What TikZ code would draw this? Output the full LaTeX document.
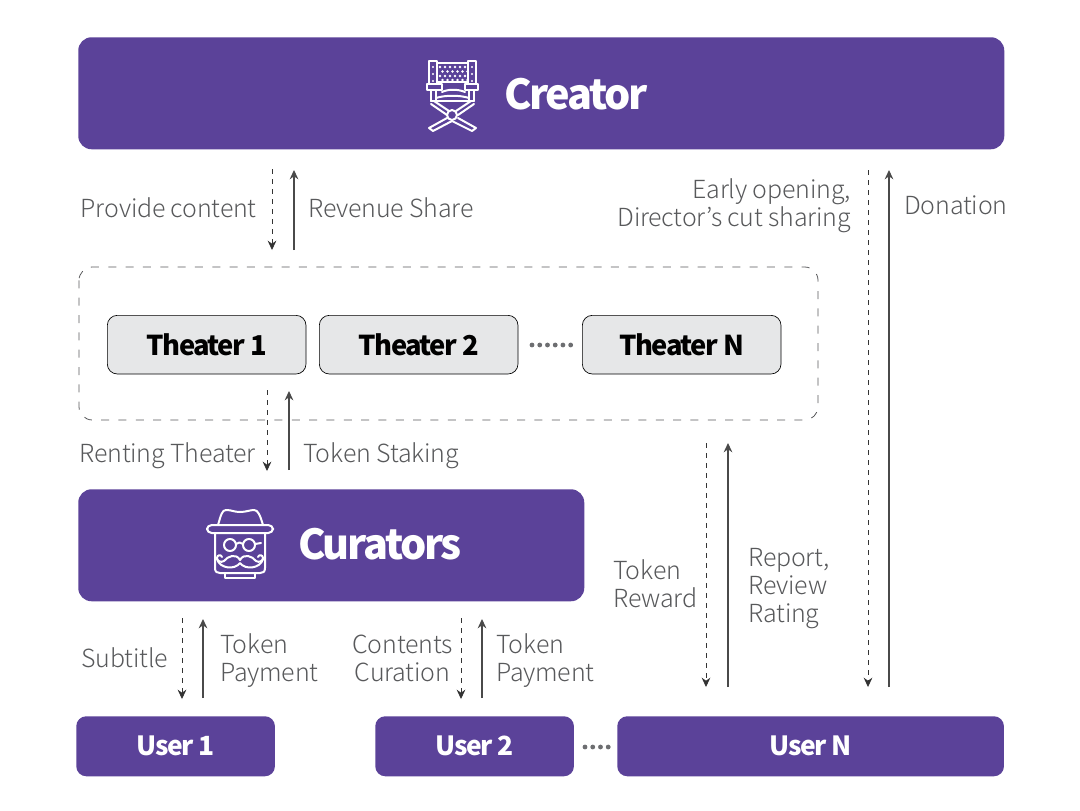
\documentclass[tikz,border=0pt]{standalone}
\usepackage{fontspec}
\setmainfont{Noto Sans CJK KR}
\newfontfamily\lightfont[LetterSpace=-0.7]{Noto Sans CJK KR Light}
\usetikzlibrary{arrows.meta}
\definecolor{brandpurple}{HTML}{5B4299}
\definecolor{lbl}{HTML}{58595B}
\definecolor{arrowgray}{HTML}{4A4A4A}
\definecolor{dashgray}{HTML}{333333}
\definecolor{dotgray}{HTML}{6D6E71}
\definecolor{theaterfill}{HTML}{E6E7E8}
\newcommand{\titletext}[3]{\fontsize{#1}{#1}\selectfont\addfontfeatures{LetterSpace=#2}\bfseries #3}
\tikzset{
  x=0.75pt,y=-0.75pt,
  purplebox/.style={fill=brandpurple,draw=none,rounded corners=10pt,inner sep=0pt,anchor=north west,text=white},
  theaterbox/.style={fill=theaterfill,draw=black,line width=0.5pt,rounded corners=7.5pt,minimum width=149pt,minimum height=44pt,inner sep=0pt,anchor=north west,text=black},
  lab/.style={text=lbl,inner sep=0pt,font=\lightfont\fontsize{18.7pt}{21pt}\selectfont,align=left},
  solidarrow/.style={draw=arrowgray,line width=0.8pt,-{Stealth[length=7pt,width=6.5pt]}},
  dasharrow/.style={draw=dashgray,line width=0.65pt,dash pattern=on 4pt off 3.5pt,-{Stealth[length=7pt,width=6.5pt]}},
  icon/.style={draw=white,line width=1.5pt,line join=round,line cap=round},
  dotline/.style={draw=dotgray,line width=3.6pt,line cap=round,dash pattern=on 0pt off 5.8pt}
}
\begin{document}
\begin{tikzpicture}
\useasboundingbox (0,0) rectangle (1080,810);
\fill[white] (0,0) rectangle (1080,810);
% boxes
\node[purplebox,minimum width=694.5pt,minimum height=84pt] (creator) at (78,37) {};
\node[purplebox,minimum width=379.5pt,minimum height=84pt] (curators) at (78,489) {};
\node[purplebox,minimum width=149pt,minimum height=45pt,rounded corners=7.5pt] (user1) at (76,716) {\raisebox{-1.2pt}{\titletext{19.8pt}{-5}{User 1}}};
\node[purplebox,minimum width=149pt,minimum height=45pt,rounded corners=7.5pt] (user2) at (375,716) {\raisebox{-1.2pt}{\titletext{19.8pt}{-5}{User 2}}};
\node[purplebox,minimum width=290pt,minimum height=45pt,rounded corners=7.5pt] (usern) at (617,716) {\raisebox{-1.2pt}{\titletext{19.8pt}{-5}{User N}}};
\node[text=white,inner sep=0pt] (creatortitle) at (576,94) {\titletext{31pt}{-5.5}{Creator}};
\node[text=white,inner sep=0pt] (curatorstitle) at (380,544) {\titletext{31pt}{-5.5}{Curators}};
% dashed group
\draw[draw=lbl,line width=0.6pt,dash pattern=on 6pt off 7pt,rounded corners=10pt] (79,267) rectangle (818,420);
\node[theaterbox] (t1) at (107,315) {\titletext{20.5pt}{-5.5}{Theater 1}};
\node[theaterbox] (t2) at (319,315) {\titletext{20.5pt}{-5.5}{Theater 2}};
\node[theaterbox] (tn) at (582,315) {\titletext{20.5pt}{-5.5}{Theater N}};
\coordinate (tdA) at (532,345);\coordinate (tdB) at (573,345);
\draw[dotline] (tdA) -- (tdB);
\coordinate (udA) at (585,747);\coordinate (udB) at (611,747);
\draw[dotline] (udA) -- (udB);
% arrow end points
\coordinate (a1s) at (272,169);\coordinate (a1e) at (272,250);
\coordinate (a2s) at (294,250);\coordinate (a2e) at (294,170);
\coordinate (a3s) at (267,390);\coordinate (a3e) at (267,471);
\coordinate (a4s) at (289,470);\coordinate (a4e) at (289,391);
\coordinate (a5s) at (182,618);\coordinate (a5e) at (182,699);
\coordinate (a6s) at (203,698);\coordinate (a6e) at (203,619);
\coordinate (a7s) at (461,618);\coordinate (a7e) at (461,699);
\coordinate (a8s) at (482,698);\coordinate (a8e) at (482,619);
\coordinate (a9s) at (706,443);\coordinate (a9e) at (706,687);
\coordinate (a10s) at (728,687);\coordinate (a10e) at (728,443);
\coordinate (a11s) at (868,170);\coordinate (a11e) at (868,687);
\coordinate (a12s) at (889,687);\coordinate (a12e) at (889,170);
\foreach \a in {a1,a3,a5,a7,a9,a11} \draw[dasharrow] (\a s) -- (\a e);
\foreach \a in {a2,a4,a6,a8,a10,a12} \draw[solidarrow] (\a s) -- (\a e);
% labels
\node[lab,anchor=east] (l1) at (257,208) {Provide content};
\node[lab,anchor=west] (l2) at (308,208) {Revenue Share};
\node[lab,anchor=east,align=right] (l3) at (851,206) {Early opening,\\Director’s cut sharing};
\node[lab,anchor=west] (l4) at (904,205) {Donation};
\node[lab,anchor=east] (l5) at (256,456) {Renting Theater};
\node[lab,anchor=west] (l6) at (303,456) {Token Staking};
\node[lab,anchor=west] (l7) at (81,658) {Subtitle};
\node[lab,anchor=west] (l8) at (220,661) {Token\\Payment};
\node[lab,anchor=east,align=center] (l9) at (453,658) {Contents\\Curation};
\node[lab,anchor=west] (l10) at (496,661) {Token\\Payment};
\node[lab,anchor=west] (l11) at (613,584) {Token\\Reward};
\node[lab,anchor=west] (l12) at (748,589) {Report,\\Review\\Rating};
% chair icon
\begin{scope}[icon]
\draw (429,61) rectangle (437,84);
\draw (468,61) rectangle (476,84);
\draw (437,63) -- (468,63) (437,82) -- (468,82);
\draw (427,84) rectangle (442,90);
\draw (465,84) rectangle (478,90);
\draw (442,92) .. controls (448,89) and (458,89) .. (465,92);
\draw (431,90) -- (431,101) (436,90) -- (436,101);
\draw (469,90) -- (469,101) (474,90) -- (474,101);
\draw (436,98) .. controls (445,95) and (460,95) .. (469,98);
\draw (431,101) -- (474,101);
\draw (434,101) -- (449,111) (471,101) -- (456,111);
\draw (431,104) -- (447,115) (474,104) -- (458,115);
\draw (447,118) -- (429,128) -- (433,131) -- (452,121) -- (472,131) -- (476,128) -- (458,118);
\draw[fill=brandpurple] (452,115) circle (5);
\end{scope}
\foreach \yy/\off in {67/0,71.5/2.5,76/0,80/2.5}
  \foreach \xx in {440,445,...,465}
    \fill[white] ({\xx+\off},\yy) circle (1.4);
\foreach \yy in {67,74,81} {\fill[white] (433,\yy) circle (1.2);\fill[white] (472,\yy) circle (1.2);}
% curator icon
\begin{scope}[icon]
\draw[rounded corners=3.5pt] (207,525) rectangle (273,533);
\draw (218,525) .. controls (221,515) and (222,510) .. (226,510) .. controls (232,510) and (234,512) .. (240,512) .. controls (246,512) and (250,510) .. (254,510) .. controls (258,510) and (260,515) .. (263,525);
\draw (215,533) -- (215,568) .. controls (215,572) and (217,573) .. (220,573) -- (260,573) .. controls (263,573) and (265,572) .. (265,568) -- (265,533);
\draw (225,573) -- (225,578) -- (255,578) -- (255,573);
\draw (230,545) circle (6);
\draw (249,545) circle (6);
\draw (236,544) .. controls (238,542) and (241,542) .. (243,544);
\draw (255,544) -- (261,543);
\draw (240,560) .. controls (236,553) and (228,556) .. (224,561) .. controls (221,563) and (217,561) .. (217,558) .. controls (217,555) and (221,554) .. (222,557);
\draw (240,560) .. controls (244,553) and (252,556) .. (256,561) .. controls (259,563) and (263,561) .. (263,558) .. controls (263,555) and (259,554) .. (258,557);
\draw (217,559) .. controls (220,569) and (235,570) .. (240,563) .. controls (245,570) and (260,569) .. (263,559);
\end{scope}
\end{tikzpicture}
\end{document}
